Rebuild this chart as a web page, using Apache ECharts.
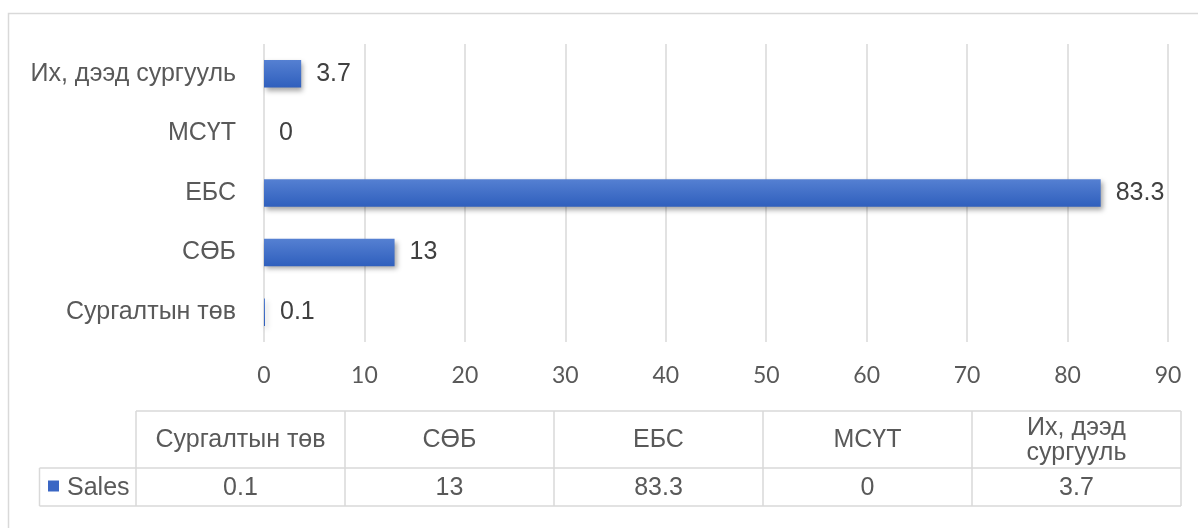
<!DOCTYPE html>
<html>
<head>
<meta charset="utf-8">
<script src="https://cdn.jsdelivr.net/npm/echarts@6/dist/echarts.min.js"></script>
<style>
html,body{margin:0;padding:0;background:#fff;}
#chart{width:1198px;height:528px;}
</style>
</head>
<body>
<div id="chart"></div>
<script>
const categories = ['Сургалтын төв', 'СӨБ', 'ЕБС', 'МСҮТ', 'Их, дээд сургууль'];
const seriesName = 'Sales';
const salesValues = [0.1, 13, 83.3, 0, 3.7];
const xTicks = [0, 10, 20, 30, 40, 50, 60, 70, 80, 90];

const chart = echarts.init(document.getElementById('chart'));

const gridColor = '#d9d9d9';
const textColor = '#595959';
const labelFont = '"Liberation Sans", Arial, sans-serif';
const fs = 25;

// table layout
const tblLeftLegend = 39.5;
const tblLeft = 136;
const tblRight = 1181;
const rowTop = 411, rowMid = 468, rowBot = 506;
const colW = (tblRight - tblLeft) / categories.length;

// wrap text by words to fit a width
const measureCtx = document.createElement('canvas').getContext('2d');
function wrapWords(text, font, maxW) {
  measureCtx.font = font;
  const words = text.split(' ');
  const lines = [];
  let cur = '';
  words.forEach(w => {
    const t = cur ? cur + ' ' + w : w;
    if (cur && measureCtx.measureText(t).width > maxW) { lines.push(cur); cur = w; }
    else cur = t;
  });
  if (cur) lines.push(cur);
  return lines.join('\n');
}

const graphics = [];
// outer chart border
graphics.push({type:'rect', shape:{x:8.5, y:13.5, width:1300, height:600}, style:{fill:'none', stroke:'#d9d9d9', lineWidth:1.5}, silent:true});
function line(x1,y1,x2,y2){
  graphics.push({type:'line', shape:{x1,y1,x2,y2}, style:{stroke:'#d9d9d9', lineWidth:1.5}, silent:true});
}
line(tblLeft, rowTop, tblRight, rowTop);
line(tblLeftLegend, rowMid, tblRight, rowMid);
line(tblLeftLegend, rowBot, tblRight, rowBot);
line(tblLeftLegend, rowMid, tblLeftLegend, rowBot);
for (let i = 0; i <= categories.length; i++) {
  const x = tblLeft + i * colW;
  line(x, rowTop, x, rowBot);
}
const cellFont = fs + 'px ' + labelFont;
categories.forEach((c, i) => {
  const cx = tblLeft + (i + 0.5) * colW;
  graphics.push({type:'text', x: cx, y: (rowTop + rowMid) / 2 + 1, silent:true,
    style:{text: wrapWords(c, cellFont, colW - 14), fill: textColor, font: cellFont, align:'center', verticalAlign:'middle', lineHeight: 25}});
  graphics.push({type:'text', x: cx, y: (rowMid + rowBot) / 2 + 1, silent:true,
    style:{text: String(salesValues[i]), fill: textColor, font: cellFont, align:'center', verticalAlign:'middle'}});
});
// legend key
graphics.push({type:'rect', shape:{x:48, y:480.5, width:11, height:11}, style:{fill:'#3a66c4'}, silent:true});
graphics.push({type:'text', x: 67, y: (rowMid + rowBot) / 2 + 1, silent:true,
  style:{text: seriesName, fill: textColor, font: cellFont, align:'left', verticalAlign:'middle'}});

chart.setOption({
  animation: false,
  backgroundColor: '#ffffff',
  grid: {left: 264, right: 30, top: 44, bottom: 186, containLabel: false},
  xAxis: {
    type: 'value', min: xTicks[0], max: xTicks[xTicks.length - 1], interval: 10,
    axisLine: {show: false}, axisTick: {show: false},
    splitLine: {show: true, lineStyle: {color: gridColor, width: 1.5}},
    axisLabel: {color: textColor, fontSize: 23, fontFamily: 'Lato, "Open Sans", sans-serif', margin: 22}
  },
  yAxis: {
    type: 'category', data: categories,
    axisLine: {show: false}, axisTick: {show: false},
    axisLabel: {color: textColor, fontSize: fs, fontFamily: labelFont, margin: 28}
  },
  series: [{
    name: seriesName, type: 'bar', data: salesValues, barWidth: 27.5,
    itemStyle: {
      color: new echarts.graphic.LinearGradient(0, 0, 0, 1, [
        {offset: 0, color: '#5580d2'}, {offset: 1, color: '#2f5fbd'}
      ]),
      shadowColor: 'rgba(0,0,0,0.35)', shadowBlur: 5, shadowOffsetX: 2, shadowOffsetY: 3
    },
    label: {show: true, position: 'right', distance: 15, color: '#404040', fontSize: fs, fontFamily: labelFont}
  }],
  graphic: graphics
});
</script>
</body>
</html>
